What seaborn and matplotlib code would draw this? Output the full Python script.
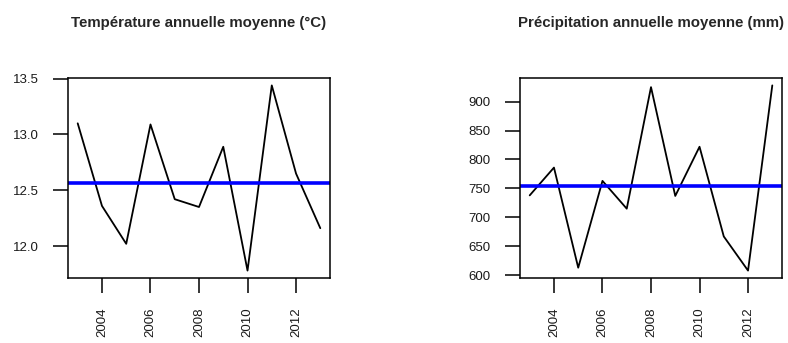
import numpy as np
import pandas as pd
import matplotlib
matplotlib.use("Agg")
import matplotlib.pyplot as plt
import seaborn as sns

years = list(range(2003, 2014))
temperature = [13.10, 12.36, 12.02, 13.09, 12.42, 12.35, 12.89, 11.78, 13.44, 12.65, 12.16]
precipitation = [738, 786, 613, 763, 715, 925, 737, 822, 667, 608, 928]
temp_ticks = [12.0, 12.5, 13.0, 13.5]
prec_ticks = [600, 650, 700, 750, 800, 850, 900]
year_ticks = [2004, 2006, 2008, 2010, 2012]
titles = ["Température annuelle moyenne (°C)", "Précipitation annuelle moyenne (mm)"]

sns.set_style("white")
plt.rcParams['font.family'] = ['Liberation Sans', 'DejaVu Sans']

fig = plt.figure(figsize=(7.88, 3.43), dpi=100)
ax1 = fig.add_axes([68 / 788, 1 - 278 / 343, 262 / 788, 200 / 343])
ax2 = fig.add_axes([520 / 788, 1 - 278 / 343, 262 / 788, 200 / 343])

df = pd.DataFrame({"year": years, "temp": temperature, "prec": precipitation})


def r_style_panel(ax, col, yticks, title):
    sns.lineplot(data=df, x="year", y=col, ax=ax, color="black", lw=1.3)
    ax.axhline(np.mean(df[col]), color="#0000ff", lw=2.6)
    lo, hi = df[col].min(), df[col].max()
    pad = (hi - lo) * 0.04
    ax.set_ylim(lo - pad, hi + pad)
    ax.set_xlim(2003 - 0.4, 2013 + 0.4)
    ax.set_xticks(year_ticks)
    ax.set_xticklabels([str(y) for y in year_ticks], rotation=90)
    ax.set_yticks(yticks)
    ax.set_yticklabels([f"{t:g}" if isinstance(t, int) else f"{t:.1f}" for t in yticks])
    ax.set_xlabel("")
    ax.set_ylabel("")
    for s in ax.spines.values():
        s.set_color("black")
        s.set_linewidth(1.1)
    ax.tick_params(axis="both", which="major", direction="out", length=11,
                   width=1.1, color="black", labelsize=9.5, labelcolor="#1a1a1a",
                   bottom=True, left=True, pad=10)
    ax.set_title(title, fontsize=10.8, fontweight="bold", pad=37)


r_style_panel(ax1, "temp", temp_ticks, titles[0])
r_style_panel(ax2, "prec", prec_ticks, titles[1])

fig.savefig("out.png", dpi=100)
